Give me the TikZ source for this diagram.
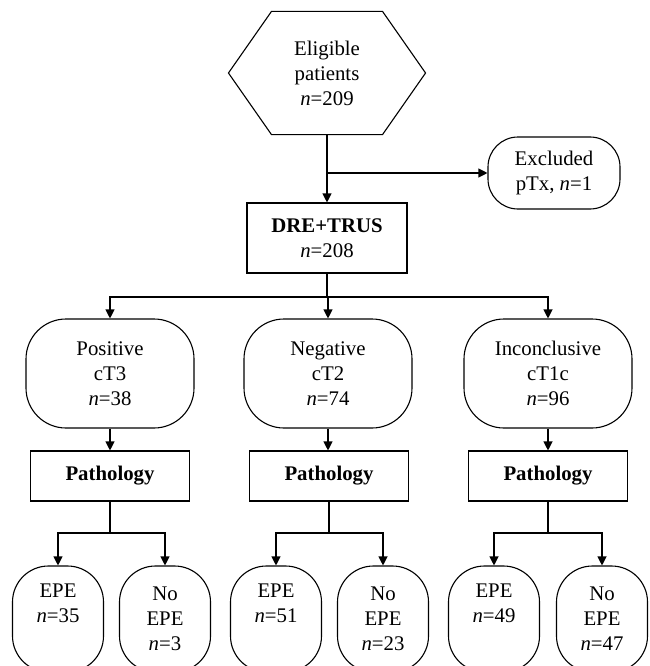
\documentclass[tikz,border=0pt]{standalone}
\usepackage{fontspec}
\setmainfont{Liberation Serif}
\usetikzlibrary{arrows.meta}
\begin{document}
\begin{tikzpicture}[x=1pt,y=-1pt,
  every node/.style={font=\fontsize{20.8}{25}\selectfont, align=center, inner sep=0pt, line width=1.1pt},
  line width=1.1pt,
  arr/.style={-{Triangle[length=9pt,width=9pt]}},
  sqbox/.style={draw, rectangle},
  rbox/.style={draw, rectangle, rounded corners=40pt, minimum width=168pt, minimum height=109pt},
  leaf/.style={draw, rectangle, rounded corners=36pt, minimum width=91pt, minimum height=106pt},
  pbox/.style={sqbox, minimum width=159pt, minimum height=50pt, font=\fontsize{20.8}{25}\selectfont\bfseries}
]
\path[use as bounding box, clip] (0,0) rectangle (649,666);

% top hexagon
\node (hex) [minimum width=110pt, minimum height=122pt] at (327,73) {Eligible\\patients\\\textit{n}=209};
\draw (hex.north west) -- ([xshift=-43pt]hex.west) -- (hex.south west) -- (hex.south east) -- ([xshift=43pt]hex.east) -- (hex.north east) -- cycle;

\node (excl) [draw, rectangle, rounded corners=30pt, minimum width=132pt, minimum height=72pt] at (554,173) {Excluded\\pTx, \textit{n}=1};

\node (dre) [sqbox, minimum width=160pt, minimum height=70pt] at (327,238) {\textbf{DRE+TRUS}\\\textit{n}=208};

\draw[arr] (hex.south) -- (dre.north);
\coordinate (br) at (hex.south |- excl.west);
\draw[arr] (br) -- (excl.west);

% second level
\node (pos) [rbox] at (110,373.5) {Positive\\cT3\\\textit{n}=38};
\node (neg) [rbox] at (328,373.5) {Negative\\cT2\\\textit{n}=74};
\node (inc) [rbox] at (548,373.5) {Inconclusive\\cT1c\\\textit{n}=96};

\coordinate (j1) at (327,297);
\draw (dre.south) -- (j1);
\draw[arr] (j1) -| (pos.north);
\draw[arr] (j1) -| (inc.north);
\draw[arr] (j1) -- (j1 -| neg.north) -- (neg.north);

% pathology
\node (p1) [pbox] at (110,476) {Pathology};
\node (p2) [pbox] at (329,476) {Pathology};
\node (p3) [pbox] at (548,476) {Pathology};
\draw[arr] (pos.south) -- (pos.south |- p1.north);
\draw[arr] (neg.south) -- (neg.south |- p2.north);
\draw[arr] (inc.south) -- (inc.south |- p3.north);

% leaves
\node (l1) [leaf] at (58,619) {EPE\\\textit{n}=35\\\strut};
\node (l2) [leaf] at (165,619) {No\\EPE\\\textit{n}=3};
\node (l3) [leaf] at (276,619) {EPE\\\textit{n}=51\\\strut};
\node (l4) [leaf] at (383,619) {No\\EPE\\\textit{n}=23};
\node (l5) [leaf] at (494,619) {EPE\\\textit{n}=49\\\strut};
\node (l6) [leaf] at (602,619) {No\\EPE\\\textit{n}=47};

\coordinate (k1) at (110,533);
\coordinate (k2) at (329,533);
\coordinate (k3) at (548,533);
\draw (p1.south) -- (k1);
\draw (p2.south) -- (k2);
\draw (p3.south) -- (k3);
\draw[arr] (k1) -| (l1.north);
\draw[arr] (k1) -| (l2.north);
\draw[arr] (k2) -| (l3.north);
\draw[arr] (k2) -| (l4.north);
\draw[arr] (k3) -| (l5.north);
\draw[arr] (k3) -| (l6.north);
\end{tikzpicture}
\end{document}
